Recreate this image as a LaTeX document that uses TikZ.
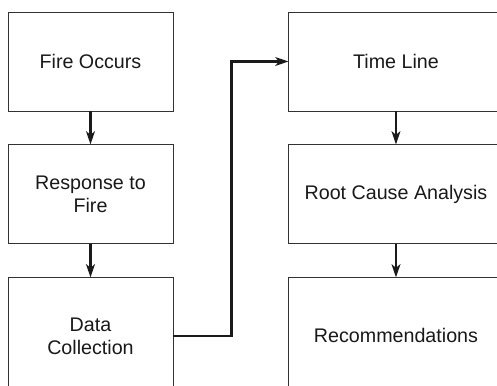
\documentclass[tikz,border=0pt]{standalone}
\usepackage{fontspec}
\setmainfont{Liberation Sans}
\usepackage{xcolor}
\definecolor{BoxLine}{HTML}{333333}
\definecolor{ArrLine}{HTML}{1A1A1A}
\usepackage{tikz}
\usetikzlibrary{arrows.meta,positioning}

\begin{document}
\begin{tikzpicture}[
  box/.style={draw=BoxLine,line width=0.55pt,align=center,font=\fontsize{11.2}{13.1}\selectfont,text=black!90,minimum width=3.3cm,minimum height=1.98cm,inner sep=0pt},
  wide/.style={box,minimum width=4.28cm},
  arr/.style={-{Stealth[length=7.5pt,width=5pt,inset=2pt]},line width=1.3pt,ArrLine}
]
  \useasboundingbox (0,0) rectangle (9.94,-7.72);
  \clip (0,0) rectangle (9.94,-7.72);

  \node[box] (fire) at (1.81,-1.23) {Fire Occurs};
  \node[box,below=0.66cm of fire] (resp) {Response to\\Fire};
  \node[box,minimum height=2.32cm,below=0.66cm of resp] (data) {Data\\Collection};
  \draw[arr] (fire)--(resp);
  \draw[arr] (resp)--(data);

  \node[wide,right=2.3cm of fire] (tline) {Time Line};
  \node[wide,below=0.66cm of tline] (rca) {Root Cause Analysis};
  \node[wide,minimum height=2.32cm,below=0.66cm of rca] (recs) {Recommendations};
  \draw[arr] (tline)--(rca);
  \draw[arr] (rca)--(recs);

  \draw[arr] (data.east)--++(1.16,0)|-(tline.west);
\end{tikzpicture}
\end{document}
